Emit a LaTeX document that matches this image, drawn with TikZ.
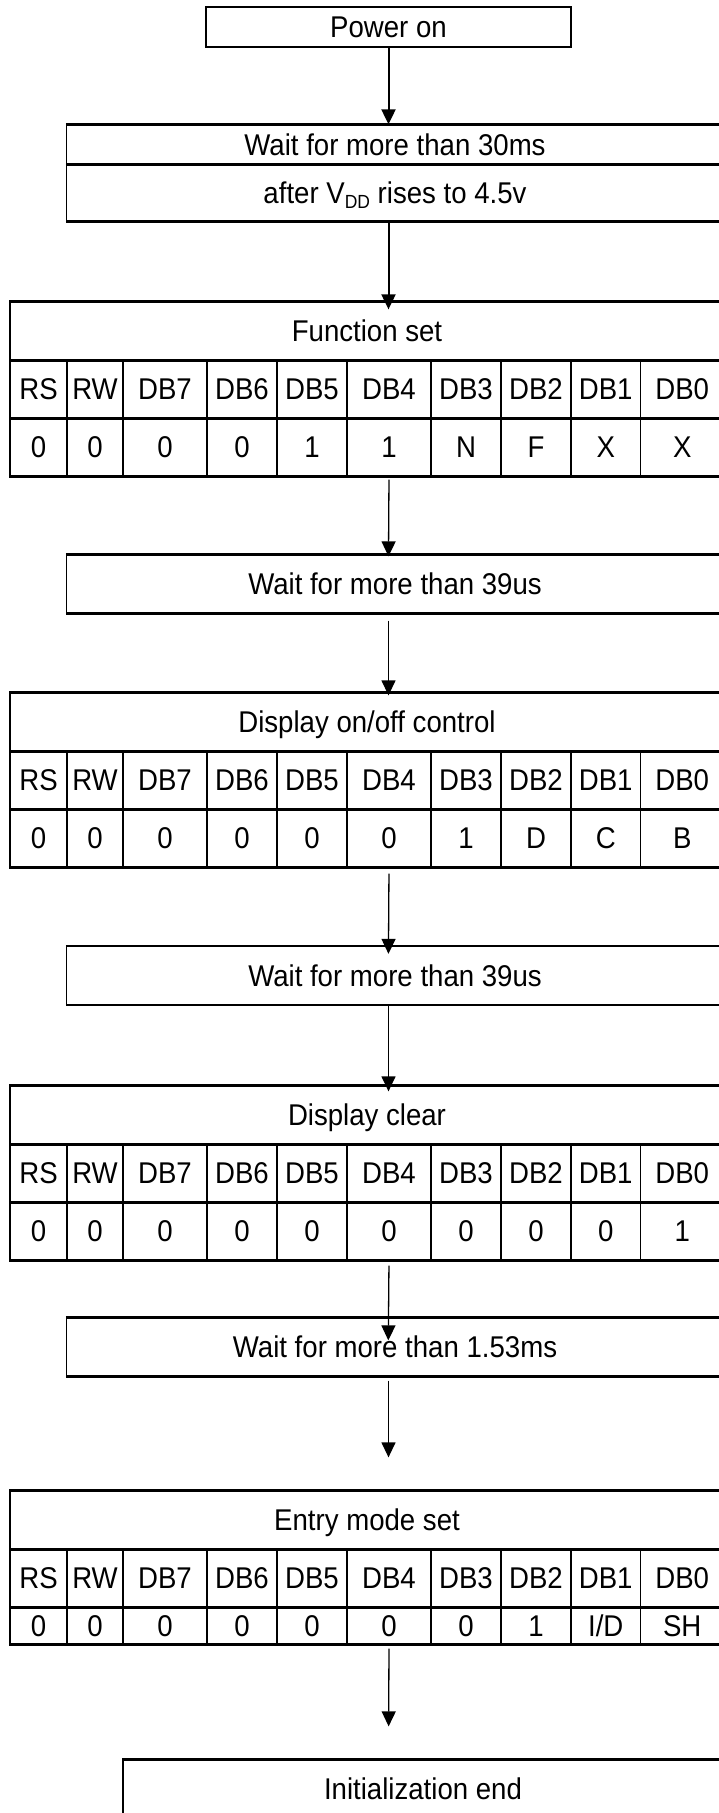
\documentclass[tikz,border=0pt]{standalone}
\usepackage{fontspec}
\setmainfont{Liberation Sans}[FakeStretch=0.92]
\usepackage{tikz}
\usetikzlibrary{arrows.meta}
\tikzstyle{flowChart} = [x = 1pt, y = -1pt]
\tikzstyle{boxStyle} = [draw=black, line width=1.3pt, inner sep=0pt, text height=21.5pt, text depth=0pt, font=\fontsize{30}{34}\selectfont]
\tikzstyle{ruleLine} = [line width=2.2pt]
\tikzstyle{waitStyle} = [boxStyle, minimum width=657pt, minimum height=58pt]
\tikzstyle{flowArrow} = [line width=1.3pt, -{Triangle[length=15pt, width=14pt]}]
\tikzstyle{heavyArrow} = [flowArrow, line width=2pt]
\newcommand{\columnEdges}{10,67,123,207,277,347,431,501,571,640.5,724}
\newcommand{\subDD}{\raisebox{-5pt}{\fontsize{19}{19}\selectfont DD}}
\newcommand{\ruleBox}[1]{
  \draw [ruleLine] (#1.north west) -- (#1.north east) (#1.south west) -- (#1.south east);
}
\newcommand{\waitBox}[3]{
  \node [waitStyle] (#1) at (395, #2) {#3};
  \ruleBox{#1}
}
\newcommand{\tableRow}[5]{
  \foreach \cellText [count=\col] in {#5} {
    \pgfmathsetmacro{\leftEdge}{{\columnEdges}[\col-1]}
    \pgfmathsetmacro{\rightEdge}{{\columnEdges}[\col]}
    \pgfmathsetmacro{\cellWidth}{\rightEdge-\leftEdge}
    \node [boxStyle, minimum width=\cellWidth pt, minimum height=#4pt] (#1#2\col) at ({(\leftEdge+\rightEdge)/2}, {#3+#4/2}) {\cellText};
  }
}
\newcommand{\commandTable}[5]{
  \node [boxStyle, minimum width=714pt, minimum height=58pt] (#1) at (367, {#2+29}) {#3};
  \tableRow{#1}{Head}{#2+58}{58}{RS,RW,DB7,DB6,DB5,DB4,DB3,DB2,DB1,DB0}
  \tableRow{#1}{Val}{#2+116}{#5}{#4}
  \ruleBox{#1}
  \draw [ruleLine] (#1Head1.south west) -- (#1Head10.south east) (#1Val1.south west) -- (#1Val10.south east);
}

\begin{document}
\begin{tikzpicture}[flowChart]
  \useasboundingbox (0,0) rectangle (719,1813);
  \clip (0,0) rectangle (719,1813);
  \coordinate (spine) at (388.5,0);
  \node [boxStyle, line width=1.8pt, minimum width=365pt, minimum height=40pt] (powerOn) at (388.5,27) {Power on};
  \node [boxStyle, minimum width=657pt, minimum height=39pt] (waitTop) at (395,144.5) {Wait for more than 30ms};
  \node [boxStyle, minimum width=657pt, minimum height=57pt] (waitBottom) at (395,192.5) {after V\subDD{} rises to 4.5v};
  \ruleBox{waitTop}
  \draw [ruleLine] (waitBottom.south west) -- (waitBottom.south east);
  \commandTable{fset}{302}{Function set}{0,0,0,0,1,1,N,F,X,X}{58}
  \waitBox{waitB}{584}{Wait for more than 39us}
  \commandTable{dctl}{693}{Display on/off control}{0,0,0,0,0,0,1,D,C,B}{58}
  \waitBox{waitC}{975.5}{Wait for more than 39us}
  \commandTable{dclr}{1086}{Display clear}{0,0,0,0,0,0,0,0,0,1}{58}
  \waitBox{waitD}{1347}{Wait for more than 1.53ms}
  \commandTable{emode}{1491}{Entry mode set}{0,0,0,0,0,0,0,1,I/D,SH}{37}
  \node [boxStyle, minimum width=600pt, minimum height=58pt] (initEnd) at (423,1789) {Initialization end};
  \ruleBox{initEnd}

  \draw [heavyArrow] (powerOn.south) -- (waitTop.north -| spine);
  \draw [heavyArrow, shorten >=-8pt] (waitBottom.south -| spine) -- (fset.north -| spine);
  \draw [flowArrow, shorten <=3pt, shorten >=-2pt] (fsetVal6.south) -- (waitB.north -| spine);
  \draw [flowArrow, shorten <=7pt, shorten >=-3pt] (waitB.south -| spine) -- (dctl.north -| spine);
  \draw [flowArrow, shorten <=6pt, shorten >=-8pt] (dctlVal6.south) -- (waitC.north -| spine);
  \draw [flowArrow, shorten >=-6pt] (waitC.south -| spine) -- (dclr.north -| spine);
  \draw [flowArrow, shorten <=5pt, shorten >=-23pt] (dclrVal6.south) -- (waitD.north -| spine);
  \draw [flowArrow, shorten <=4pt, shorten >=33pt] (waitD.south -| spine) -- (emode.north -| spine);
  \draw [flowArrow, shorten <=4pt, shorten >=33pt] (emodeVal6.south) -- (initEnd.north -| spine);
\end{tikzpicture}
\end{document}
